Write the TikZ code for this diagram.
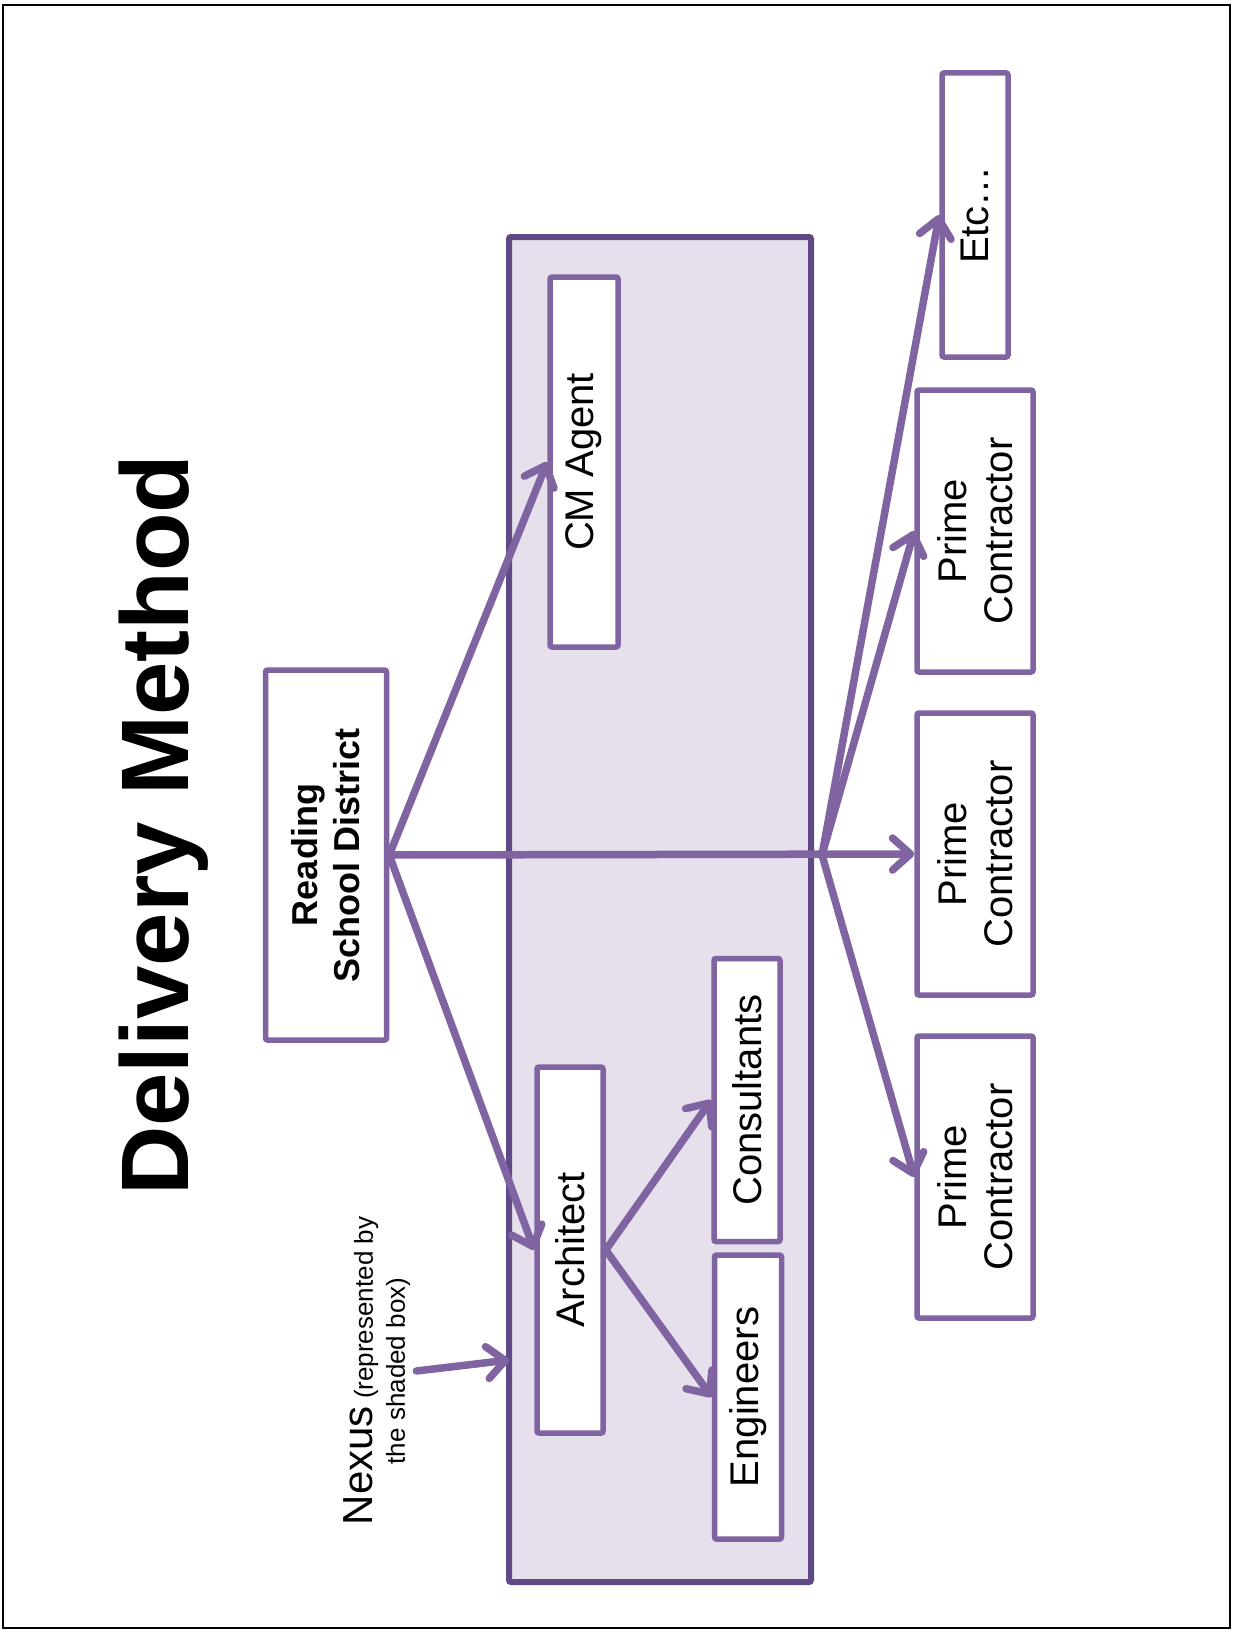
\documentclass[tikz,border=0pt]{standalone}
\usepackage{fontspec}
\setmainfont{Liberation Sans}
\usepackage{xcolor}
\definecolor{cPurple}{HTML}{8064A2}
\definecolor{cDark}{HTML}{5F4A87}
\definecolor{cShade}{HTML}{E5E0EC}
\usepackage{tikz}
\usetikzlibrary{positioning,arrows.meta}
\tikzset{
  node-box/.style={draw=cPurple,line width=5.5pt,fill=white,rounded corners=2pt,
    rotate=90,align=center,inner sep=0pt,font=\fontsize{40}{46}\selectfont},
  node-nexus/.style={draw=cDark,line width=6pt,fill=cShade,rounded corners=2pt},
  arrow/.style={-{Straight Barb[length=18pt,width=32pt,round]},line width=7.5pt,
    draw=cPurple,line cap=round},
}

\begin{document}
\begin{tikzpicture}[x=1pt,y=-1pt]
  \useasboundingbox (0,0) rectangle (1233,1632);
  \draw[line width=2.5pt] (3,5) rectangle (1230,1628);
  % title
  \node[rotate=90,inner sep=0pt,font=\bfseries\fontsize{96}{110}\selectfont] (title) at (164,825) {Delivery Method};
  % shaded nexus box
  \node[node-nexus,minimum width=302,minimum height=1345] (nexus) at (660,909.5) {};
  \node[rotate=90,align=center,inner sep=6pt,font=\fontsize{26}{32}\selectfont] (nexlbl) at (377,1371)
    {{\fontsize{42}{32}\selectfont Nexus} (represented by\\the shaded box)};
  % boxes
  \node[node-box,font=\bfseries\fontsize{36}{42}\selectfont,minimum width=370,minimum height=121] (rsd) at (326,855) {Reading\\School District};
  \node[node-box,minimum width=370,minimum height=68] (cm) at (584,462) {CM Agent};
  \node[node-box,minimum width=366,minimum height=66] (arch) at (570,1250) {Architect};
  \node[node-box,minimum width=283,minimum height=66] (cons) at (747,1100) {Consultants};
  \node[node-box,minimum width=284,minimum height=67] (eng) at (748,1397) {Engineers};
  \node[node-box,minimum width=282,minimum height=116] (p1) at (975,531) {Prime\\Contractor};
  \node[node-box,minimum width=282,minimum height=116] (p2) at (975,854) {Prime\\Contractor};
  \node[node-box,minimum width=282,minimum height=116] (p3) at (975,1177) {Prime\\Contractor};
  \node[node-box,minimum width=284,minimum height=66] (etc) at (975,215) {Etc…};
  \coordinate (hub) at (822,855);
  \coordinate (nexin) at (509,1360);
  % connectors
  \draw[arrow] (rsd.south) -- (cm.north);
  \draw[arrow] (rsd.south) -- (arch.north);
  \draw[arrow] (rsd.south) -- (p2.north);
  \draw[arrow] (hub) -- (p1.north);
  \draw[arrow] (hub) -- (p3.north);
  \draw[arrow] (hub) -- (etc.north);
  \draw[arrow] (arch.south) -- (cons.north);
  \draw[arrow] (arch.south) -- (eng.north);
  \draw[arrow] (nexlbl.south) -- (nexin);
\end{tikzpicture}
\end{document}
